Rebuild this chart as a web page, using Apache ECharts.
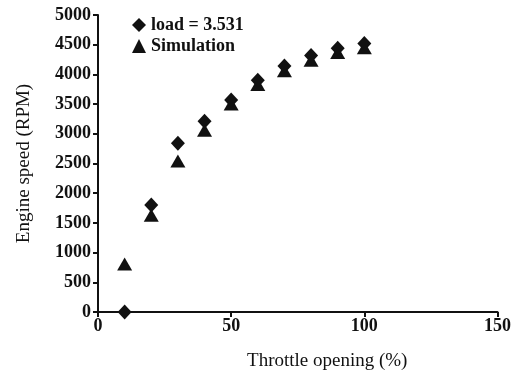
<!DOCTYPE html>
<html>
<head>
<meta charset="utf-8">
<script src="https://cdn.jsdelivr.net/npm/echarts@6/dist/echarts.min.js"></script>
<style>
  html, body { margin: 0; padding: 0; background: #fff; }
  #chart { width: 514px; height: 379px; }
</style>
</head>
<body>
<div id="chart"></div>
<script>
// throttle opening (%)
const throttle = [10, 20, 30, 40, 50, 60, 70, 80, 90, 100];
// measured engine speed, load = 3.531
const measured = [0, 1800, 2840, 3210, 3570, 3900, 4140, 4320, 4440, 4520];
// simulated engine speed
const simulated = [810, 1630, 2540, 3060, 3500, 3830, 4060, 4240, 4370, 4450];

const font = 'Liberation Serif, Times New Roman, serif';
const ink = '#111';

const chart = echarts.init(document.getElementById('chart'));

const pairs = (ys) => throttle.map((x, i) => [x, ys[i]]);

chart.setOption({
  animation: false,
  grid: { left: 98, right: 16, top: 15, bottom: 67 },
  legend: {
    orient: 'vertical',
    left: 127,
    top: 11,
    itemWidth: 14,
    itemHeight: 14,
    itemGap: 3,
    itemTextGap: 5,
    textStyle: { fontFamily: font, fontSize: 18, fontWeight: 'bold', color: ink },
    data: [
      { name: 'load = 3.531', icon: 'diamond' },
      { name: 'Simulation', icon: 'triangle' },
    ],
  },
  xAxis: {
    type: 'value',
    min: 0,
    max: 150,
    interval: 50,
    name: 'Throttle opening (%)',
    nameLocation: 'middle',
    nameGap: 40,
    nameTextStyle: { fontFamily: font, fontSize: 19, color: ink, padding: [0, 0, 0, 59] },
    axisLine: { lineStyle: { color: ink, width: 2 } },
    axisTick: { length: 5, lineStyle: { color: ink, width: 2 } },
    axisLabel: { fontFamily: font, fontSize: 18, fontWeight: 'bold', color: ink, margin: 5 },
    splitLine: { show: false },
  },
  yAxis: {
    type: 'value',
    min: 0,
    max: 5000,
    interval: 500,
    name: 'Engine speed (RPM)',
    nameLocation: 'middle',
    nameGap: 64,
    nameTextStyle: { fontFamily: font, fontSize: 19, color: ink },
    axisLine: { show: true, lineStyle: { color: ink, width: 2 } },
    axisTick: { show: true, length: 5, lineStyle: { color: ink, width: 2 } },
    axisLabel: {
      fontFamily: font, fontSize: 18, fontWeight: 'bold', color: ink, margin: 7,
      formatter: (v) => String(v),
    },
    splitLine: { show: false },
  },
  series: [
    {
      name: 'load = 3.531',
      type: 'scatter',
      symbol: 'diamond',
      symbolSize: [14, 15],
      itemStyle: { color: ink, opacity: 1 },
      data: pairs(measured),
      z: 3,
    },
    {
      name: 'Simulation',
      type: 'scatter',
      symbol: 'triangle',
      symbolSize: [15, 13],
      itemStyle: { color: ink, opacity: 1 },
      data: pairs(simulated),
      z: 2,
    },
  ],
});
</script>
</body>
</html>
